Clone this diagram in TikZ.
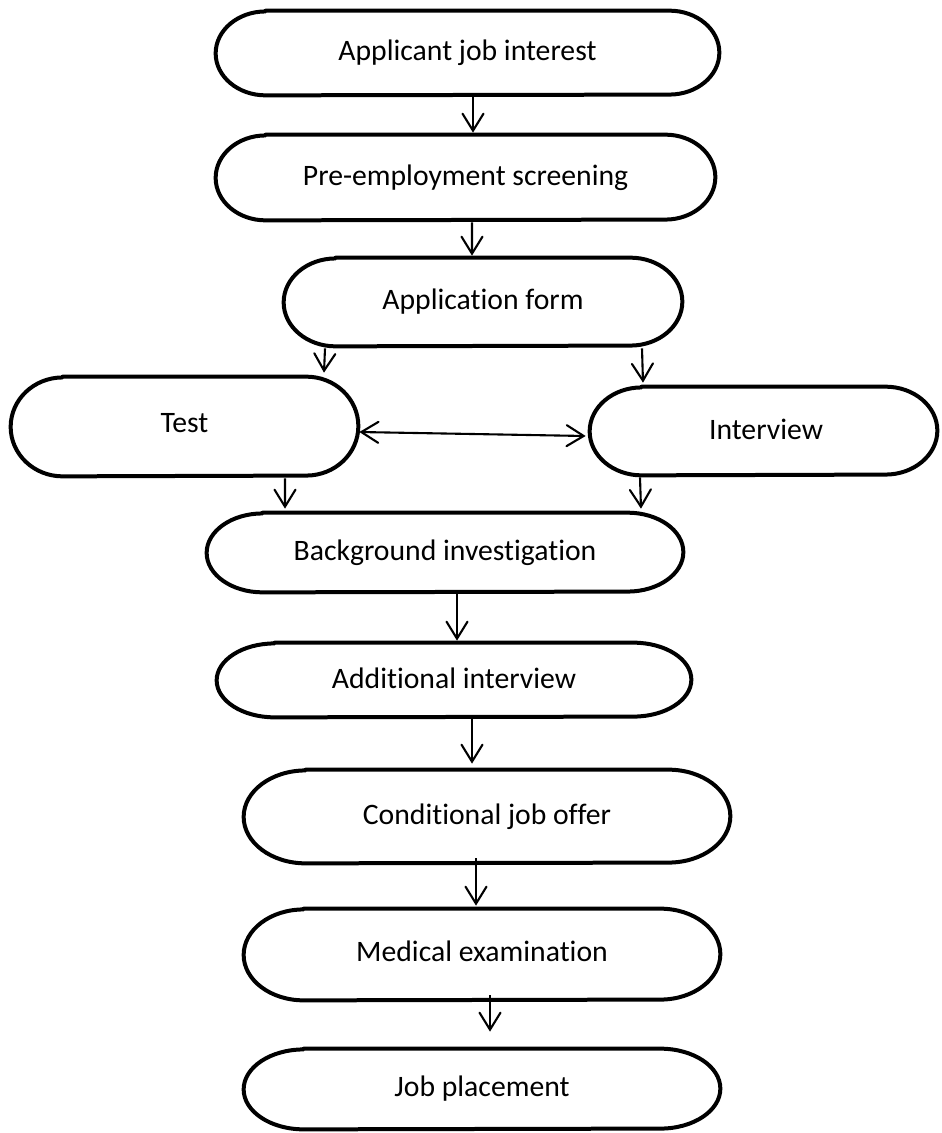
\documentclass[tikz,border=0pt]{standalone}
\usepackage{fontspec}
\setmainfont{Carlito}[Ligatures={NoCommon}]
\usetikzlibrary{arrows.meta}

% A stage of the process: text node plus an outline with half-elliptic ends.
% #1 name, #2 centre (px), #3 width, #4 height, #5 end radius (px), #6 text
\newcommand\stage[6]{%
  \node[stagetext, minimum width=#3*0.02cm, minimum height=#4*0.02cm] (#1) at (#2) {\raisebox{0.06cm}{#6}};
  \draw[border] ([xshift=#5*0.02cm]#1.north west) -- ([xshift=-#5*0.02cm]#1.north east)
    arc[start angle=90, end angle=-90, x radius=#5*0.02cm, y radius=#4*0.01cm]
    -- ([xshift=#5*0.02cm]#1.south west)
    arc[start angle=270, end angle=90, x radius=#5*0.02cm, y radius=#4*0.01cm]
    -- cycle;}

\begin{document}
\begin{tikzpicture}[
  x=0.02cm, y=-0.02cm,
  stagetext/.style={inner sep=0pt, font=\fontsize{16.9pt}{20pt}\selectfont},
  border/.style={draw=black, line width=0.08cm, line join=round},
  flow/.style={draw=black, line width=0.042cm,
    -{Straight Barb[length=0.34cm, width=0.42cm, line cap=round]}},
  both/.style={flow, {Straight Barb[length=0.34cm, width=0.42cm, line cap=round]}-{Straight Barb[length=0.34cm, width=0.42cm, line cap=round]}}
]
\useasboundingbox (0,0) rectangle (941,1133);

\stage{interest}{467.5,53}{503}{84}{50}{Applicant job interest}
\stage{screen}{465.5,177.5}{499}{85}{50}{Pre-employment screening}
\stage{form}{483,302}{398}{88}{52}{Application form}
\stage{test}{184.5,426.5}{347}{99}{52}{\raisebox{0.08cm}{Test}}
\stage{interview}{763.5,431}{347}{88}{52}{\hspace{0.1cm}Interview}
\stage{background}{445,552.5}{476}{79}{56}{Background investigation}
\stage{additional}{454,680}{474}{74}{58}{Additional interview}
\stage{offer}{487,816.5}{486}{93}{62}{Conditional job offer}
\stage{medical}{482,954.5}{476}{91}{60}{\raisebox{0.06cm}{Medical examination}}
\stage{placement}{482,1089}{476}{80}{60}{Job placement}

% connectors
\draw[flow] ([shift={(5.5,2)}]interest.south) -- ([shift={(7.5,-2)}]screen.north);
\draw[flow] ([shift={(6.5,2)}]screen.south) -- ([shift={(-11,-2)}]form.north);
\draw[flow] ([shift={(-158,2)}]form.south) -- ([shift={(139.5,-4)}]test.north);
\draw[flow] ([shift={(159,2)}]form.south) -- ([shift={(-120.5,-4)}]interview.north);
\draw[both] ([shift={(1,5.5)}]test.east) -- ([shift={(-4,5)}]interview.west);
\draw[flow] ([shift={(100.5,2)}]test.south) -- ([shift={(-160,-4)}]background.north);
\draw[flow] ([shift={(-123.5,2)}]interview.south) -- ([shift={(196,-4)}]background.north);
\draw[flow] ([shift={(12,2)}]background.south) -- ([shift={(3,-2)}]additional.north);
\draw[flow] ([shift={(18,2)}]additional.south) -- ([shift={(-15,-6)}]offer.north);
\draw[flow] ([shift={(-11,-5)}]offer.south) -- ([shift={(-6,-3)}]medical.north);
\draw[flow] ([shift={(8,-5)}]medical.south) -- ([shift={(8,-17)}]placement.north);
\end{tikzpicture}
\end{document}
